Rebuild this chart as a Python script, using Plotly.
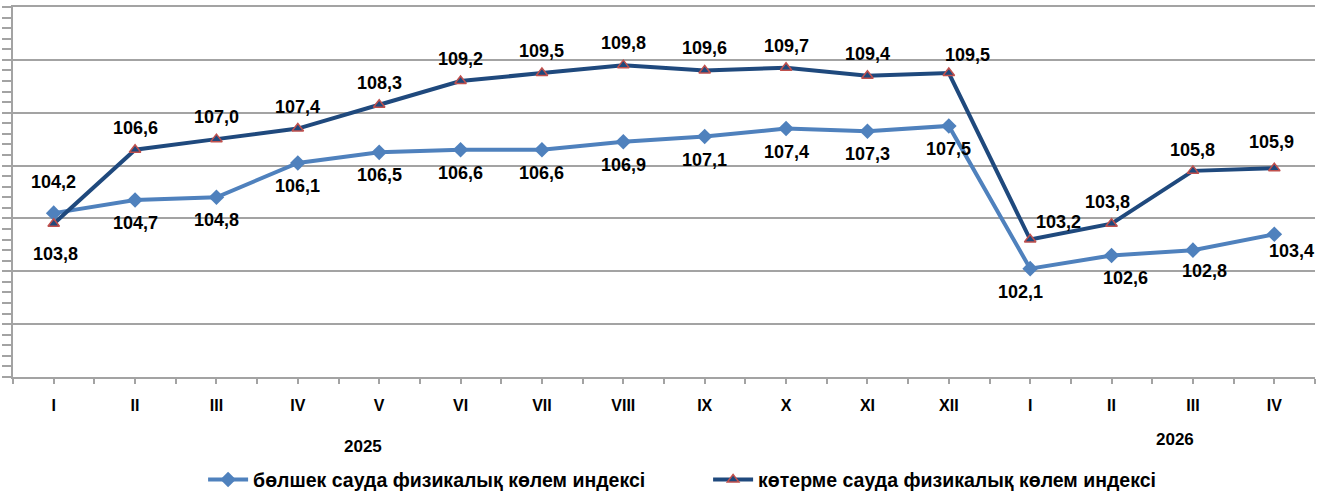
import plotly.graph_objects as go

months = ["I", "II", "III", "IV", "V", "VI", "VII", "VIII", "IX", "X", "XI", "XII",
          "I", "II", "III", "IV"]
retail = [104.2, 104.7, 104.8, 106.1, 106.5, 106.6, 106.6, 106.9, 107.1, 107.4, 107.3, 107.5,
          102.1, 102.6, 102.8, 103.4]
wholesale = [103.8, 106.6, 107.0, 107.4, 108.3, 109.2, 109.5, 109.8, 109.6, 109.7, 109.4, 109.5,
             103.2, 103.8, 105.8, 105.9]
years = ["2025", "2026"]
series_names = ["бөлшек сауда физикалық көлем индексі",
                "көтерме сауда физикалық көлем индексі"]

LIGHT = "#4F81BD"
DARK = "#1F497D"
RED = "#C0504D"
GRID = "#A3A3A3"
FONT = "Liberation Sans, Arial, sans-serif"

x = list(range(len(months)))

# label offsets (px): dx, dy (dy positive = up)
retail_off = [(0, 31)] + [(0, -23)] * 11 + [(-10, -23), (14, -23), (12, -21), (17, -17)]
wholesale_off = [(2, -30)] + [(0, 22)] * 10 + [(19, 18)] + [(28, 18), (-4, 22), (0, 21), (-3, 26)]

fig = go.Figure()
fig.add_trace(go.Scatter(
    x=x, y=retail, mode="lines+markers", name=series_names[0],
    line=dict(color=LIGHT, width=4),
    marker=dict(symbol="diamond", size=12, color=LIGHT, line=dict(width=0)),
    cliponaxis=False,
))
fig.add_trace(go.Scatter(
    x=x, y=wholesale, mode="lines+markers", name=series_names[1],
    line=dict(color=DARK, width=4),
    marker=dict(symbol="triangle-up", size=10, color=DARK, line=dict(width=1.5, color=RED)),
    cliponaxis=False,
))

def fmt(v):
    return f"{v:.1f}".replace(".", ",")

annotations = []
for vals, offs in ((retail, retail_off), (wholesale, wholesale_off)):
    for i, v in enumerate(vals):
        dx, dy = offs[i]
        annotations.append(dict(
            x=i, y=v, xref="x", yref="y", text=f"<b>{fmt(v)}</b>", showarrow=False,
            xshift=dx, yshift=dy, xanchor="center", yanchor="middle",
            font=dict(family=FONT, size=18, color="#000000"),
        ))

annotations.append(dict(x=3.8, y=-0.189, xref="x", yref="paper", text=f"<b>{years[0]}</b>",
                        showarrow=False, font=dict(family=FONT, size=17, color="#000"),
                        xanchor="center", yanchor="middle"))
annotations.append(dict(x=13.78, y=-0.170, xref="x", yref="paper", text=f"<b>{years[1]}</b>",
                        showarrow=False, font=dict(family=FONT, size=17, color="#000"),
                        xanchor="center", yanchor="middle"))

fig.update_layout(
    width=1330, height=495,
    margin=dict(l=13, r=15, t=7, b=118, autoexpand=False),
    paper_bgcolor="white", plot_bgcolor="white",
    showlegend=True,
    legend=dict(orientation="h", x=0.146, xanchor="left", y=-0.278, yanchor="middle",
                font=dict(family=FONT, size=19.5, color="#000", weight="bold"),
                entrywidth=450, entrywidthmode="pixels", itemwidth=40,
                bgcolor="rgba(0,0,0,0)"),
    annotations=annotations,
    xaxis=dict(
        range=[-0.5, len(months) - 0.5], tickmode="array", tickvals=x,
        ticktext=[f"<b>{m}</b>" for m in months],
        tickfont=dict(family=FONT, size=16, color="#000"),
        ticks="outside", ticklen=5, tickcolor=GRID, tickwidth=1.5,
        minor=dict(ticks="outside", ticklen=5, tickcolor=GRID, tickwidth=1.5,
                   tickmode="linear", tick0=0.5, dtick=1),
        showline=True, linecolor=GRID, linewidth=1.5, mirror=True,
        showgrid=False, zeroline=False, ticklabelstandoff=8,
        fixedrange=True,
    ),
    yaxis=dict(
        range=[98, 112], tickmode="linear", tick0=98, dtick=2,
        showticklabels=False,
        ticks="outside", ticklen=9, tickcolor=GRID, tickwidth=1.5,
        minor=dict(ticks="outside", ticklen=9, tickcolor=GRID, tickwidth=1.5,
                   tickmode="linear", tick0=98, dtick=0.4, showgrid=False),
        showgrid=True, gridcolor=GRID, gridwidth=1.5,
        showline=True, linecolor=GRID, linewidth=1.5,
        zeroline=False,
    ),
    xaxis2=dict(
        overlaying="x", range=[-0.5, len(months) - 0.5], tickmode="array", tickvals=x,
        showticklabels=False, ticks="inside", ticklen=5, tickcolor=GRID, tickwidth=1.5,
        showline=False, showgrid=False, zeroline=False, side="bottom",
    ),
    yaxis2=dict(
        overlaying="y", range=[98, 112], tickmode="linear", tick0=98, dtick=2,
        showticklabels=False, ticks="inside", ticklen=3, tickcolor=GRID, tickwidth=1.5,
        minor=dict(ticks="inside", ticklen=3, tickcolor=GRID, tickwidth=1.5,
                   tickmode="linear", tick0=98, dtick=0.4),
        showline=False, showgrid=False, zeroline=False, side="left",
    ),
)

fig.write_html("out.html", config={"displayModeBar": False},
               post_script="document.body.style.margin='0';")
